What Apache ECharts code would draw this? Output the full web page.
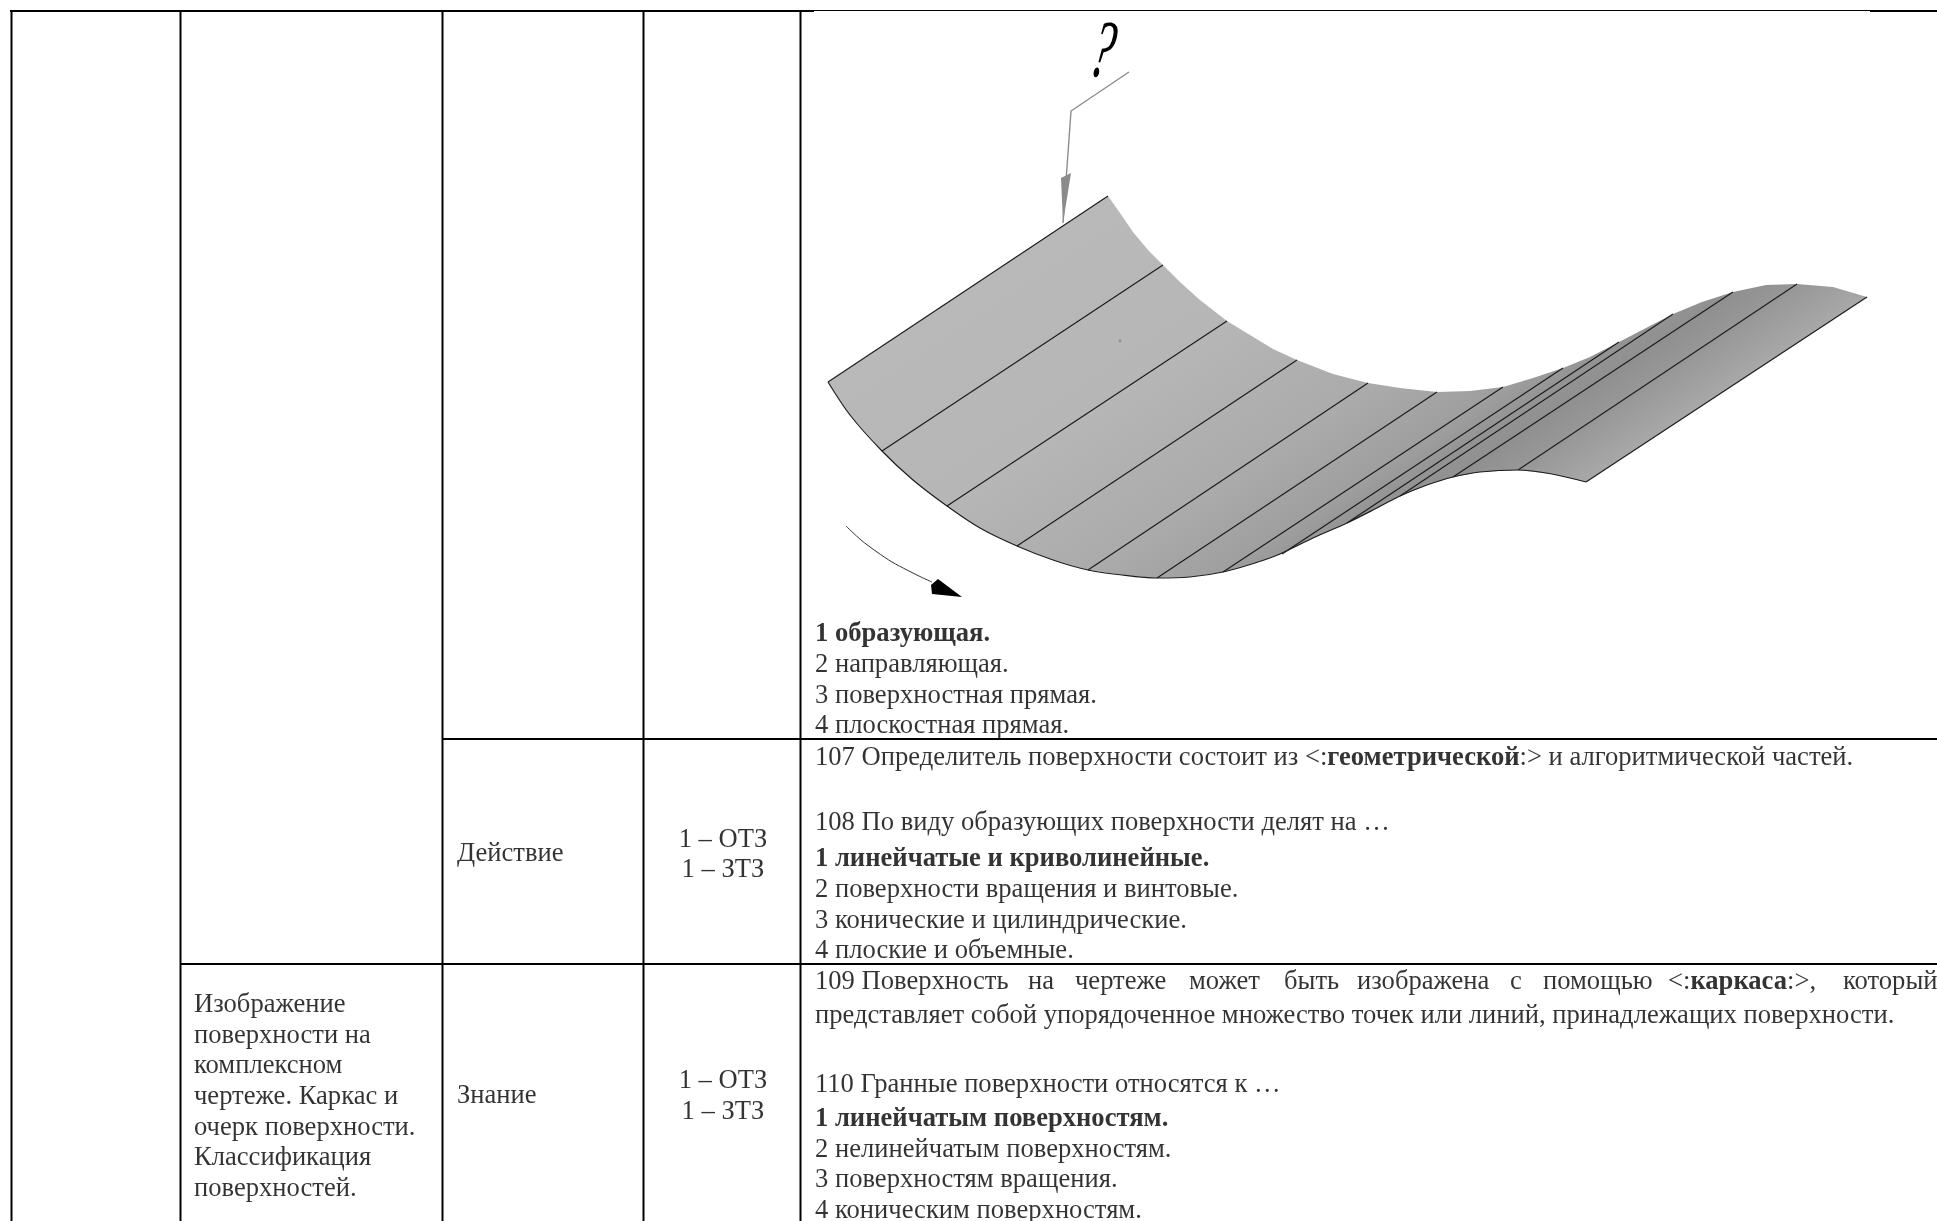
<!DOCTYPE html>
<html>
<head>
<meta charset="utf-8">
<style>
  html, body { margin: 0; padding: 0; background: #fff; }
  #main { width: 1937px; height: 1221px; }
</style>
<script src="https://cdn.jsdelivr.net/npm/echarts@6/dist/echarts.min.js"></script>
</head>
<body>
<div id="main"></div>
<script>
// table rules: [x1, y1, x2, y2]
var heavyRules = [
  [10, 11, 814, 11], [1870, 11, 1937, 11],
  [11.5, 11, 11.5, 1221], [180.5, 11, 180.5, 1221], [442.5, 11, 442.5, 1221],
  [643.5, 11, 643.5, 1221], [800.5, 11, 800.5, 1221],
  [442.5, 739, 1937, 739], [180.5, 964, 1937, 964]
]
var thinRules = [[814, 10.5, 1870, 10.5]]

// surface outline
var surfaceTop = [
  [1108, 196], [1120, 213], [1133, 232], [1148, 250], [1163, 265], [1180, 282], [1200, 300],
  [1227, 321], [1250, 335], [1273, 349], [1297, 360], [1333, 374], [1368, 383], [1400, 388],
  [1437, 392], [1470, 391], [1503, 387], [1533, 378], [1563, 368], [1590, 357], [1619, 342],
  [1646, 328], [1673, 314], [1702, 302], [1733, 292], [1766, 285], [1797, 284], [1833, 287],
  [1867, 297]
]
var surfaceBottom = [
  [828, 382], [850, 415], [882, 451], [913, 480], [947, 506], [980, 528], [1017, 546],
  [1053, 560], [1088, 570], [1122, 575], [1157, 578], [1190, 577], [1223, 572], [1255, 563],
  [1280, 554], [1313, 538], [1347, 523], [1373, 510], [1400, 496], [1427, 485], [1453, 477],
  [1480, 472], [1518, 470], [1552, 474], [1586, 482]
]
// straight generators of the surface: [bottom x, bottom y, top x, top y]
var generators = [
  [828, 382, 1108, 196], [882, 451, 1163, 265], [947, 506, 1227, 321], [1017, 546, 1297, 360],
  [1088, 570, 1368, 383], [1157, 578, 1437, 392], [1223, 572, 1503, 387], [1282, 554, 1563, 368],
  [1347, 523, 1619, 342], [1400, 496, 1673, 314], [1453, 477, 1733, 292], [1518, 470, 1797, 284],
  [1586, 482, 1867, 297]
]
var specks = [[1120, 341]]
var motionCurve = [[846, 526], [861, 540], [877, 552], [892, 562], [907, 570], [921, 577], [932, 582]]
var motionHead = [[962, 597], [938, 579], [931, 585], [932, 594]]
var leader = [[1129, 72], [1071, 111], [1063, 223]]
var leaderHead = [[1071, 173], [1061, 178], [1063, 223]]
var questionMark = [[1102, 55, '?']]

// left aligned text: [x, baseline, text]
var leftTexts = [
  [815, 641.5, '{b|1 образующая.}'],
  [815, 672, '2 направляющая.'],
  [815, 703, '3 поверхностная прямая.'],
  [815, 733, '4 плоскостная прямая.'],
  [815, 765, '107 Определитель поверхности состоит из <:{b|геометрической}:> и алгоритмической частей.'],
  [815, 830, '108 По виду образующих поверхности делят на …'],
  [815, 866, '{b|1 линейчатые и криволинейные.}'],
  [815, 897, '2 поверхности вращения и винтовые.'],
  [815, 928, '3 конические и цилиндрические.'],
  [815, 958, '4 плоские и объемные.'],
  // justified line, word by word
  [815, 989, '109 Поверхность'], [1028, 989, 'на'], [1075, 989, 'чертеже'], [1189, 989, 'может'],
  [1284, 989, 'быть'], [1357, 989, 'изображена'], [1510, 989, 'с'], [1543, 989, 'помощью'],
  [1668, 989, '<:{b|каркаса}:>,'], [1843, 989, 'который'],
  [815, 1023, 'представляет собой упорядоченное множество точек или линий, принадлежащих поверхности.'],
  [815, 1092, '110 Гранные поверхности относятся к …'],
  [815, 1126, '{b|1 линейчатым поверхностям.}'],
  [815, 1157, '2 нелинейчатым поверхностям.'],
  [815, 1187, '3 поверхностям вращения.'],
  [815, 1218, '4 коническим поверхностям.'],
  [457, 861, 'Действие'],
  [457, 1103, 'Знание'],
  [194, 1012, 'Изображение'],
  [194, 1043, 'поверхности на'],
  [194, 1073, 'комплексном'],
  [194, 1104, 'чертеже. Каркас и'],
  [194, 1135, 'очерк поверхности.'],
  [194, 1165, 'Классификация'],
  [194, 1196, 'поверхностей.']
]
// centred text: [x, baseline, text]
var centerTexts = [
  [723, 847, '1 – ОТЗ'], [723, 877, '1 – ЗТЗ'],
  [723, 1088, '1 – ОТЗ'], [723, 1119, '1 – ЗТЗ']
]

var FONT = '"Liberation Serif", "Times New Roman", serif'
var FONT_SIZE = 26.6
var BASE_SHIFT = 7 // label middle sits above the baseline

function toPair (r) {
  return [[r[0], r[1]], [r[2], r[3]]]
}
function lineSeries (points, color, width, smooth) {
  return {
    type: 'line',
    data: points,
    symbol: 'none',
    silent: true,
    animation: false,
    smooth: smooth || false,
    lineStyle: { color: color, width: width, cap: 'butt' }
  }
}
function polygonSeries (points, fill) {
  return {
    type: 'custom',
    silent: true,
    animation: false,
    clip: false,
    data: [0],
    renderItem: function (params, api) {
      return {
        type: 'polygon',
        shape: { points: points.map(function (p) { return api.coord(p) }) },
        style: { fill: fill, stroke: null }
      }
    }
  }
}
function textSeries (rows, position) {
  return {
    type: 'scatter',
    symbolSize: 0,
    silent: true,
    animation: false,
    data: rows.map(function (r) { return [r[0], r[1] - BASE_SHIFT, r[2]] }),
    label: {
      show: true,
      position: position,
      distance: 0,
      color: '#000',
      fontFamily: FONT,
      fontSize: FONT_SIZE,
      formatter: function (p) { return p.data[2] },
      rich: { b: { fontFamily: FONT, fontSize: FONT_SIZE, fontWeight: 'bold', color: '#000' } }
    }
  }
}

// shading runs across the generators
var surfaceFill = new echarts.graphic.LinearGradient(828, 382, 1106, 801, [
  { offset: 0, color: '#b9b9b9' },
  { offset: 0.34, color: '#b6b6b6' },
  { offset: 0.6, color: '#ababab' },
  { offset: 0.75, color: '#9f9f9f' },
  { offset: 0.81, color: '#939393' },
  { offset: 0.85, color: '#909090' },
  { offset: 0.91, color: '#989898' },
  { offset: 1, color: '#a8a8a8' }
], true)

var series = []
series.push(polygonSeries(surfaceTop.concat(surfaceBottom.slice().reverse()), surfaceFill))
generators.forEach(function (g) { series.push(lineSeries(toPair(g), '#1c1c1c', 1.2)) })
series.push(lineSeries(surfaceBottom, '#1c1c1c', 1.2, 0.3))
series.push({
  type: 'scatter',
  symbolSize: 3,
  silent: true,
  animation: false,
  itemStyle: { color: '#8a8a8a' },
  data: specks
})
series.push(lineSeries(motionCurve, '#333', 1, 0.3))
series.push(polygonSeries(motionHead, '#000'))
series.push(lineSeries(leader, '#8c8c8c', 1.4))
series.push(polygonSeries(leaderHead, '#8a8a8a'))
heavyRules.forEach(function (r) { series.push(lineSeries(toPair(r), '#000', 2)) })
thinRules.forEach(function (r) { series.push(lineSeries(toPair(r), '#000', 1)) })
series.push(textSeries(leftTexts, 'right'))
series.push(textSeries(centerTexts, 'inside'))
series.push({
  type: 'custom',
  silent: true,
  animation: false,
  data: questionMark,
  renderItem: function (params, api) {
    var p = api.coord([api.value(0), api.value(1)])
    return {
      type: 'text',
      x: p[0],
      y: p[1],
      scaleX: 0.55,
      rotation: -0.2,
      style: {
        text: questionMark[params.dataIndex][2],
        fill: '#000',
        font: 'italic 84px ' + FONT,
        align: 'center',
        verticalAlign: 'middle'
      }
    }
  }
})

var option = {
  backgroundColor: '#fff',
  grid: { left: 0, right: 0, top: 0, bottom: 0 },
  xAxis: { type: 'value', min: 0, max: 1937, show: false },
  yAxis: { type: 'value', min: 0, max: 1221, inverse: true, show: false },
  series: series
}
var chart = echarts.init(document.getElementById('main'))
chart.setOption(option)
</script>
</body>
</html>
